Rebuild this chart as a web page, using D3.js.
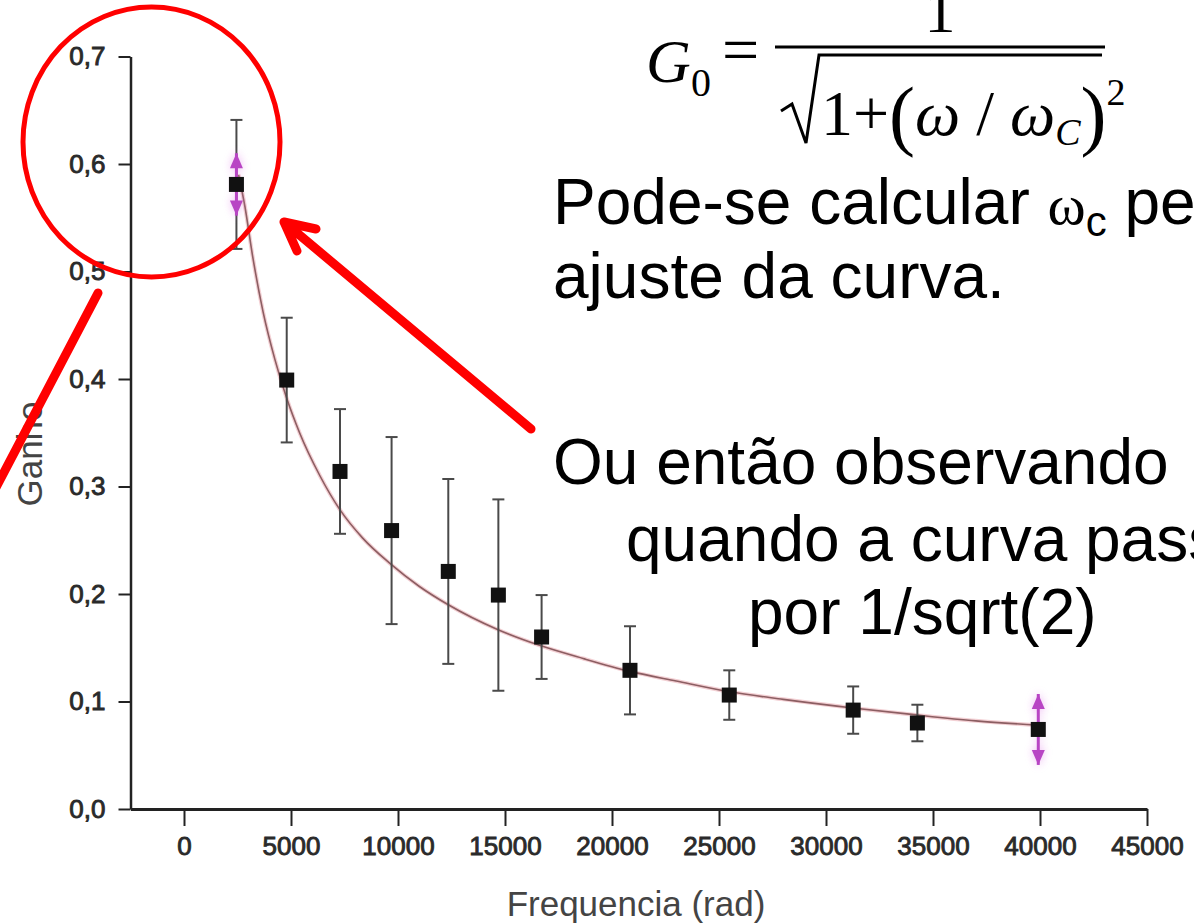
<!DOCTYPE html>
<html>
<head>
<meta charset="utf-8">
<script src="https://cdn.jsdelivr.net/npm/d3@7"></script>
<style>
  body { margin: 0; background: #fff; }
  svg { display: block; }
</style>
</head>
<body>
<script>
// Measured gain of the RC filter versus angular frequency
const freq    = [2450, 4800, 7290, 9700, 12350, 14690, 16710, 20840, 25480, 31270, 34270, 39920];
const gain    = [0.581, 0.399, 0.314, 0.259, 0.221, 0.199, 0.160, 0.129, 0.106, 0.092, 0.080, 0.074];
const gainErr = [0.060, 0.058, 0.058, 0.087, 0.086, 0.089, 0.039, 0.041, 0.023, 0.022, 0.017, 0];
// extra uncertainty drawn as arrows on the end points only
const arrowErr = [0.029, null, null, null, null, null, null, null, null, null, null, 0.033];

// Fitted curve, sampled
const fitFreq = [2550, 2850, 3200, 3700, 4250, 4800, 5400, 6350, 7300, 8350, 9650, 11000,
                 12350, 14650, 16650, 18650, 20850, 23000, 25500, 28000, 31250, 34000, 37000, 39900];
const fitGain = [0.590, 0.560, 0.515, 0.462, 0.418, 0.382, 0.350, 0.310, 0.278, 0.252, 0.228, 0.207,
                 0.190, 0.167, 0.152, 0.140, 0.128, 0.119, 0.109, 0.102, 0.094, 0.088, 0.082, 0.078];

const xTicks = [0, 5000, 10000, 15000, 20000, 25000, 30000, 35000, 40000, 45000];
const xMinor = [-2500, 2500, 7500, 12500, 17500, 22500, 27500, 32500, 37500, 42500];
const yTicks = [0, 0.1, 0.2, 0.3, 0.4, 0.5, 0.6, 0.7];
const yMinor = [0.05, 0.15, 0.25, 0.35, 0.45, 0.55, 0.65];

const W = 1194, H = 923;
const svg = d3.select('body').append('svg').attr('width', W).attr('height', H);

const defs = svg.append('defs');
defs.append('filter').attr('id', 'glow').attr('x', '-100%').attr('y', '-50%').attr('width', '300%').attr('height', '200%')
  .append('feGaussianBlur').attr('stdDeviation', 4);

const x = d3.scaleLinear().domain([-2500, 45000]).range([130.5, 1147]);
const y = d3.scaleLinear().domain([0, 0.7]).range([809, 56.5]);

const sans = '"Liberation Sans", Arial, sans-serif';
const serif = '"Liberation Serif", "Times New Roman", serif';

// ---- axes ----
const gx = svg.append('g').attr('transform', `translate(0,${y(0)})`);
gx.call(d3.axisBottom(x).tickValues(xMinor).tickSize(10).tickSizeOuter(0).tickFormat(''));
gx.call(d3.axisBottom(x).tickValues(xTicks).tickSize(17).tickPadding(11).tickSizeOuter(0)
  .tickFormat(d3.format('d')));
gx.selectAll('.domain').attr('stroke', '#222').attr('stroke-width', 3);

const gy = svg.append('g').attr('transform', `translate(${x(-2500)},0)`);
gy.call(d3.axisLeft(y).tickValues(yMinor).tickSize(6).tickSizeOuter(0).tickFormat(''));
gy.call(d3.axisLeft(y).tickValues(yTicks).tickSize(12).tickPadding(13).tickSizeOuter(0)
  .tickFormat(d => d.toFixed(1).replace('.', ',')));
gy.selectAll('.domain').attr('stroke', '#222').attr('stroke-width', 2.5);

svg.selectAll('.tick line').attr('stroke', '#222').attr('stroke-width', 2);
svg.selectAll('.tick text').attr('font-family', sans).attr('font-size', 26).attr('fill', '#2a2a2a')
  .attr('stroke', '#2a2a2a').attr('stroke-width', 0.9);

svg.append('text').attr('x', 636).attr('y', 916).attr('text-anchor', 'middle')
  .attr('font-family', sans).attr('font-size', 35).attr('fill', '#444').text('Frequencia (rad)');
svg.append('text').attr('transform', 'translate(42,454) rotate(-90)').attr('text-anchor', 'middle')
  .attr('font-family', sans).attr('font-size', 35).attr('fill', '#444').text('Ganho');

// ---- fitted curve ----
const fit = fitFreq.map((f, i) => [f, fitGain[i]]);
const fitLine = d3.line().x(d => x(d[0])).y(d => y(d[1])).curve(d3.curveMonotoneX);
svg.append('path').datum(fit).attr('d', fitLine)
  .attr('fill', 'none').attr('stroke', '#f3d0d4').attr('stroke-width', 4);
svg.append('path').datum(fit).attr('d', fitLine)
  .attr('fill', 'none').attr('stroke', '#8c5e62').attr('stroke-width', 1.6);

// ---- error bars ----
const pts = freq.map((f, i) => ({ f, g: gain[i], e: gainErr[i], a: arrowErr[i] }));
const eb = svg.append('g').attr('stroke', '#4a4a4a').attr('stroke-width', 2);
pts.filter(d => d.e > 0).forEach(d => {
  const cx = x(d.f);
  eb.append('line').attr('x1', cx).attr('x2', cx).attr('y1', y(d.g + d.e)).attr('y2', y(d.g - d.e));
  eb.append('line').attr('x1', cx - 6).attr('x2', cx + 6).attr('y1', y(d.g + d.e)).attr('y2', y(d.g + d.e));
  eb.append('line').attr('x1', cx - 6).attr('x2', cx + 6).attr('y1', y(d.g - d.e)).attr('y2', y(d.g - d.e));
});

// ---- magenta arrow bars (with a soft halo) ----
function arrowBar(g, d, color) {
  const cx = x(d.f), top = y(d.g + d.a), bot = y(d.g - d.a);
  g.append('line').attr('x1', cx).attr('x2', cx).attr('y1', top).attr('y2', bot)
    .attr('stroke', color).attr('stroke-width', 3);
  g.append('path').attr('d', `M${cx},${top} L${cx - 6.5},${top + 15} L${cx + 6.5},${top + 15} Z`).attr('fill', color);
  g.append('path').attr('d', `M${cx},${bot} L${cx - 6.5},${bot - 15} L${cx + 6.5},${bot - 15} Z`).attr('fill', color);
}
const halo = svg.append('g').attr('filter', 'url(#glow)').attr('opacity', 0.55);
const ab = svg.append('g');
pts.filter(d => d.a != null).forEach(d => {
  arrowBar(halo, d, '#e07ae8');
  arrowBar(ab, d, '#b845c4');
});

// ---- markers ----
svg.append('g').selectAll('rect').data(pts).join('rect')
  .attr('x', d => x(d.f) - 7.5).attr('y', d => y(d.g) - 7.5)
  .attr('width', 15).attr('height', 15).attr('fill', '#111');

// ---- formula ----
const fm = svg.append('g').attr('font-family', serif).attr('fill', '#000');
fm.append('text').attr('x', 646).attr('y', 82).attr('font-size', 62).attr('font-style', 'italic').text('G');
fm.append('text').attr('x', 691).attr('y', 96).attr('font-size', 40).text('0');
fm.append('text').attr('x', 722).attr('y', 72).attr('font-size', 66).text('=');
fm.append('line').attr('x1', 775).attr('x2', 1105).attr('y1', 47).attr('y2', 47)
  .attr('stroke', '#000').attr('stroke-width', 3);
fm.append('text').attr('x', 940).attr('y', 32).attr('font-size', 62).attr('text-anchor', 'middle').text('1');
fm.append('path').attr('d', 'M781,111 L792,104 L806,143 L819,55 L1102,55')
  .attr('fill', 'none').attr('stroke', '#000').attr('stroke-width', 3);
const den = fm.append('text').attr('x', 821).attr('y', 135).attr('font-size', 64);
den.append('tspan').text('1+');
den.append('tspan').attr('font-size', 78).attr('dy', 6).text('(');
den.append('tspan').attr('font-style', 'italic').attr('dy', -6).text('ω');
den.append('tspan').text(' / ');
den.append('tspan').attr('font-style', 'italic').text('ω');
den.append('tspan').attr('font-style', 'italic').attr('font-size', 38).attr('dy', 10).text('C');
den.append('tspan').attr('font-size', 78).attr('dy', -4).text(')');
den.append('tspan').attr('font-size', 38).attr('dy', -36).text('2');

// ---- annotation text ----
const tx = svg.append('g').attr('font-family', sans).attr('font-size', 64).attr('fill', '#000');
const t1 = tx.append('text').attr('x', 553).attr('y', 224);
t1.append('tspan').text('Pode-se calcular ');
t1.append('tspan').attr('font-family', serif).attr('font-size', 58).text('ω');
t1.append('tspan').attr('font-size', 42).attr('dy', 12).text('c');
t1.append('tspan').attr('dy', -12).text(' pelo');
tx.append('text').attr('x', 553).attr('y', 298).text('ajuste da curva.');
tx.append('text').attr('x', 553).attr('y', 484).text('Ou então observando');
tx.append('text').attr('x', 626).attr('y', 561).text('quando a curva passa');
tx.append('text').attr('x', 748).attr('y', 634).text('por 1/sqrt(2)');

// ---- red highlight: circle and pointers ----
const red = svg.append('g').attr('stroke', '#ff0000').attr('fill', 'none').attr('stroke-linecap', 'round');
red.append('ellipse').attr('cx', 151.5).attr('cy', 142).attr('rx', 128.5).attr('ry', 135).attr('stroke-width', 5);
red.append('line').attr('x1', 98).attr('y1', 293).attr('x2', -10).attr('y2', 499).attr('stroke-width', 9);
red.append('path').attr('d', 'M531,429 L284,222 M316,229 L284,222 L297,251')
  .attr('stroke-width', 9).attr('stroke-linejoin', 'round');
</script>
</body>
</html>
